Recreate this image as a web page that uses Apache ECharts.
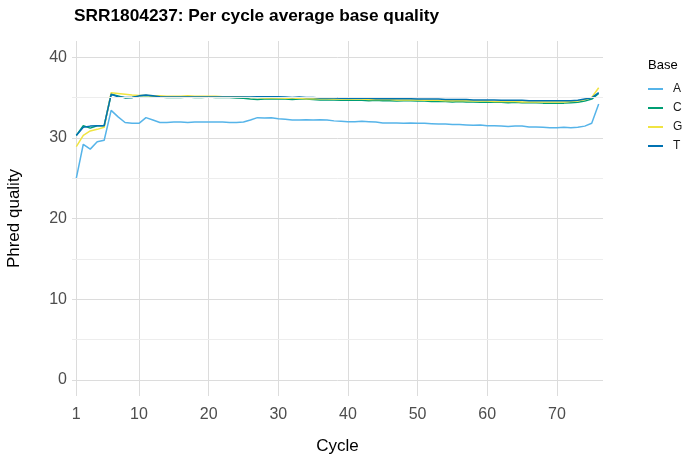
<!DOCTYPE html>
<html>
<head>
<meta charset="utf-8">
<script src="https://cdn.jsdelivr.net/npm/echarts@6/dist/echarts.min.js"></script>
<style>
html,body{margin:0;padding:0;background:#fff;}
#chart{width:691px;height:463px;}
</style>
</head>
<body>
<div id="chart"></div>
<script>
const cycles = Array.from({length: 76}, (_, i) => i + 1);
const xTicks = [1, 10, 20, 30, 40, 50, 60, 70];
const yTicks = [0, 10, 20, 30, 40];
const yMinor = [5, 15, 25, 35];
const bases = ['A', 'C', 'G', 'T'];
const baseColors = ['#56B4E9', '#009E73', '#F0E442', '#0072B2'];

const qualA = [25.0,29.2,28.6,29.5,29.7,33.4,32.6,31.9,31.8,31.8,
32.5,32.2,31.9,31.9,31.95,31.95,31.9,31.95,31.95,31.95,
31.95,31.95,31.9,31.9,31.95,32.2,32.5,32.45,32.5,32.35,
32.3,32.2,32.2,32.25,32.2,32.25,32.2,32.1,32.05,32.0,
32.0,32.05,32.0,31.95,31.85,31.85,31.85,31.8,31.85,31.8,
31.8,31.75,31.7,31.7,31.65,31.65,31.6,31.55,31.6,31.5,
31.5,31.45,31.4,31.45,31.45,31.35,31.35,31.3,31.25,31.25,
31.3,31.25,31.3,31.45,31.8,34.2];
const qualC = [30.3,31.5,31.2,31.5,31.5,35.4,35.2,34.95,35.0,35.2,
35.25,35.15,35.05,35.0,35.0,35.0,35.05,35.0,35.0,35.05,
35.0,35.0,35.0,34.95,34.9,34.8,34.75,34.8,34.85,34.8,
34.8,34.75,34.8,34.8,34.75,34.7,34.7,34.7,34.65,34.7,
34.65,34.65,34.6,34.65,34.6,34.6,34.55,34.6,34.6,34.55,
34.55,34.5,34.5,34.5,34.45,34.5,34.45,34.45,34.4,34.45,
34.4,34.4,34.35,34.4,34.35,34.35,34.35,34.3,34.3,34.3,
34.3,34.35,34.4,34.55,34.8,35.5];
const qualG = [28.9,30.3,30.85,31.05,31.3,35.6,35.5,35.4,35.3,35.25,
35.25,35.2,35.2,35.15,35.15,35.15,35.2,35.15,35.15,35.15,
35.15,35.1,35.1,35.1,35.05,35.0,35.0,34.95,34.95,34.95,
34.9,34.9,34.9,34.85,34.85,34.85,34.85,34.8,34.8,34.8,
34.8,34.8,34.75,34.75,34.75,34.75,34.7,34.7,34.7,34.7,
34.65,34.65,34.65,34.6,34.6,34.6,34.6,34.55,34.55,34.55,
34.5,34.5,34.5,34.5,34.45,34.45,34.45,34.45,34.45,34.45,
34.45,34.5,34.55,34.75,35.0,36.2];
const qualT = [30.3,31.3,31.45,31.5,31.5,35.4,35.1,35.0,35.0,35.2,
35.3,35.2,35.1,35.05,35.05,35.05,35.05,35.05,35.05,35.05,
35.05,35.05,35.05,35.05,35.05,35.05,35.1,35.1,35.1,35.1,
35.05,35.0,35.05,35.0,35.0,34.95,34.95,34.95,34.9,34.9,
34.9,34.9,34.9,34.85,34.85,34.85,34.85,34.85,34.85,34.8,
34.8,34.8,34.8,34.75,34.75,34.75,34.75,34.7,34.7,34.7,
34.7,34.65,34.65,34.65,34.65,34.6,34.6,34.6,34.6,34.6,
34.6,34.6,34.65,34.8,34.95,35.6];
const qualByBase = [qualA, qualC, qualG, qualT];

const FONT = '"Liberation Sans", Arial, Helvetica, sans-serif';
const chart = echarts.init(document.getElementById('chart'), null, {renderer: 'canvas'});

const series = bases.map((b, i) => ({
  name: b,
  type: 'line',
  data: cycles.map((c, j) => [c, qualByBase[i][j]]),
  showSymbol: false,
  symbol: 'none',
  lineStyle: {color: baseColors[i], width: 1.5},
  itemStyle: {color: baseColors[i]},
  z: 3,
  animation: false
}));

series.unshift({
  name: 'minorGrid',
  type: 'line',
  data: [],
  silent: true,
  z: 1,
  markLine: {
    silent: true,
    symbol: 'none',
    label: {show: false},
    animation: false,
    lineStyle: {color: '#ededed', width: 1, type: 'solid'},
    data: yMinor.map(v => ({yAxis: v}))
  }
});

chart.setOption({
  animation: false,
  backgroundColor: '#ffffff',
  title: [
    {text: 'SRR1804237: Per cycle average base quality', left: 69, top: 3,
     textStyle: {fontFamily: FONT, fontSize: 17.3, fontWeight: 'bold', color: '#000'}},
    {text: 'Base', left: 643, top: 54,
     textStyle: {fontFamily: FONT, fontSize: 13, fontWeight: 'normal', color: '#000'}}
  ],
  legend: {
    data: bases,
    orient: 'vertical',
    left: 648,
    top: 82,
    padding: 0,
    icon: 'rect',
    itemWidth: 15,
    itemHeight: 2,
    itemGap: 5,
    textStyle: {fontFamily: FONT, fontSize: 12, color: '#1a1a1a', lineHeight: 14, padding: [0, 0, 0, 5]}
  },
  grid: {left: 72, right: 88, top: 41, bottom: 67, containLabel: false, outerBoundsMode: 'none'},
  xAxis: {
    type: 'value',
    min: 0.38,
    max: 76.62,
    name: 'Cycle',
    nameLocation: 'middle',
    nameGap: 42,
    nameTextStyle: {fontFamily: FONT, fontSize: 17, color: '#000'},
    axisLine: {show: false},
    axisTick: {show: false, customValues: xTicks},
    axisLabel: {customValues: xTicks, fontFamily: FONT, fontSize: 16, color: '#4d4d4d', margin: 11},
    splitLine: {show: true, lineStyle: {color: '#dcdcdc', width: 1}}
  },
  yAxis: {
    type: 'value',
    min: -2,
    max: 42,
    name: 'Phred quality',
    nameLocation: 'middle',
    nameGap: 49,
    nameTextStyle: {fontFamily: FONT, fontSize: 17, color: '#000'},
    axisLine: {show: false},
    axisTick: {show: false, customValues: yTicks},
    axisLabel: {customValues: yTicks, fontFamily: FONT, fontSize: 16, color: '#4d4d4d', margin: 5},
    splitLine: {show: true, lineStyle: {color: '#dcdcdc', width: 1}}
  },
  series: series
});
</script>
</body>
</html>
